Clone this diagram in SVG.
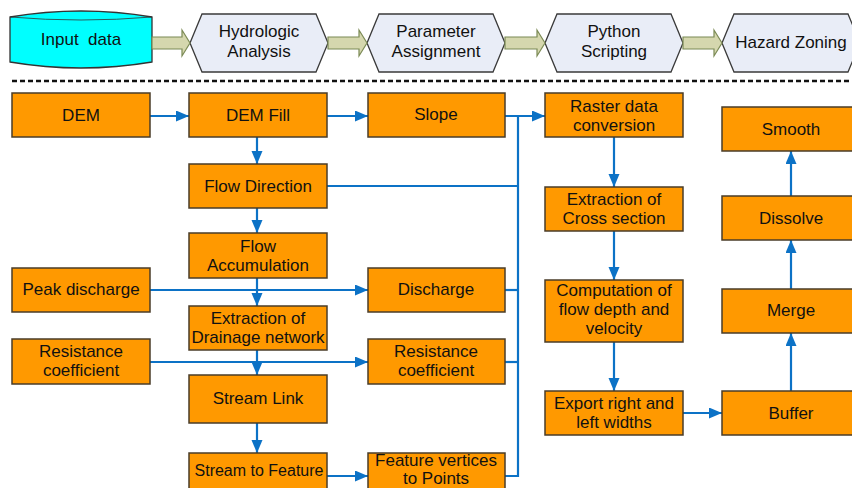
<svg xmlns="http://www.w3.org/2000/svg" width="852" height="488" viewBox="0 0 852 488">
<defs>
<style>
text{font-family:"Liberation Sans",Arial,sans-serif;font-size:17px;fill:#111;text-anchor:middle}
.box{fill:#ff9900;stroke:#4a3c28;stroke-width:1.5}
.hex{fill:#e9edf7;stroke:#3a3a3a;stroke-width:1.3}
.blk{fill:#d5d7ae;stroke:#7b8a55;stroke-width:1.2}
.ln{fill:none;stroke:#0c72c6;stroke-width:2.2}
.ar{marker-end:url(#ah)}
</style>
<marker id="ah" markerUnits="userSpaceOnUse" markerWidth="14" markerHeight="12" refX="13" refY="5.5" orient="auto">
<path d="M0,0 L13,5.5 L0,11 z" fill="#0c72c6"/>
</marker>
</defs>
<rect width="852" height="488" fill="#fff"/>

<!-- top process row -->
<g id="input-data">
<path d="M10,17 Q81,5 152,17 V62 Q81,74 10,62 Z" fill="#00ffff" stroke="#333" stroke-width="1.3"/>
<path d="M10,17 Q81,23 152,17" fill="none" stroke="#333" stroke-width="0.8"/>
<text x="81" y="45">Input&#160; data</text>
</g>
<g id="hydrologic-analysis">
<polygon class="hex" points="190,43 202,14 316,14 328,43 316,72 202,72"/>
<text x="259" y="37">Hydrologic</text><text x="259" y="57">Analysis</text>
</g>
<g id="parameter-assignment">
<polygon class="hex" points="367,43 379,14 493,14 505,43 493,72 379,72"/>
<text x="436" y="37">Parameter</text><text x="436" y="57">Assignment</text>
</g>
<g id="python-scripting">
<polygon class="hex" points="545,43 557,14 671,14 683,43 671,72 557,72"/>
<text x="614" y="37">Python</text><text x="614" y="57">Scripting</text>
</g>
<g id="hazard-zoning">
<polygon class="hex" points="722,43 734,14 848,14 860,43 848,72 734,72"/>
<text x="791" y="48">Hazard Zoning</text>
</g>
<g id="process-arrows">
<polygon class="blk" points="152,37 182,37 182,30 190,43 182,56 182,49 152,49"/>
<polygon class="blk" points="328,37 359,37 359,30 367,43 359,56 359,49 328,49"/>
<polygon class="blk" points="505,37 537,37 537,30 545,43 537,56 537,49 505,49"/>
<polygon class="blk" points="683,37 714,37 714,30 722,43 714,56 714,49 683,49"/>
</g>
<line x1="12" y1="81" x2="852" y2="81" stroke="#111" stroke-width="2.5" stroke-dasharray="5,3"/>

<!-- connectors -->
<g id="connectors">
<path class="ln ar" d="M150,116 H189"/>
<path class="ln ar" d="M326,116 H368"/>
<path class="ln ar" d="M505,116 H545"/>
<path class="ln ar" d="M257,137 V164"/>
<path class="ln ar" d="M257,208 V233"/>
<path class="ln ar" d="M257,278 V306"/>
<path class="ln ar" d="M257,350 V375"/>
<path class="ln ar" d="M257,423 V453"/>
<path class="ln ar" d="M327,476 H368"/>
<path class="ln ar" d="M150,290 H368"/>
<path class="ln ar" d="M150,362 H368"/>
<path class="ln" d="M518,116 V476 H505"/>
<path class="ln" d="M326,186 H518"/>
<path class="ln" d="M505,290 H518"/>
<path class="ln" d="M505,362 H518"/>
<path class="ln ar" d="M614,137 V187"/>
<path class="ln ar" d="M614,231 V280"/>
<path class="ln ar" d="M614,342 V391"/>
<path class="ln ar" d="M683,413 H722"/>
<path class="ln ar" d="M791,391 V333"/>
<path class="ln ar" d="M791,289 V240"/>
<path class="ln ar" d="M791,196 V151"/>
</g>

<!-- nodes -->
<g id="dem"><rect class="box" x="12" y="93" width="138" height="44"/><text x="81" y="121">DEM</text></g>
<g id="dem-fill"><rect class="box" x="189" y="93" width="138" height="44"/><text x="258" y="121">DEM Fill</text></g>
<g id="slope"><rect class="box" x="368" y="93" width="137" height="44"/><text x="436" y="120">Slope</text></g>
<g id="raster-data-conversion"><rect class="box" x="545" y="93" width="138" height="44"/><text x="614" y="112">Raster data</text><text x="614" y="131">conversion</text></g>
<g id="flow-direction"><rect class="box" x="189" y="164" width="138" height="44"/><text x="258" y="192">Flow Direction</text></g>
<g id="flow-accumulation"><rect class="box" x="189" y="233" width="138" height="45"/><text x="258" y="252">Flow</text><text x="258" y="271">Accumulation</text></g>
<g id="peak-discharge"><rect class="box" x="12" y="268" width="138" height="44"/><text x="81" y="295">Peak discharge</text></g>
<g id="discharge"><rect class="box" x="368" y="268" width="137" height="44"/><text x="436" y="295">Discharge</text></g>
<g id="extraction-drainage"><rect class="box" x="189" y="306" width="138" height="44"/><text x="258" y="324">Extraction of</text><text x="258" y="343">Drainage network</text></g>
<g id="resistance-coefficient-input"><rect class="box" x="12" y="339" width="138" height="45"/><text x="81" y="357">Resistance</text><text x="81" y="376">coefficient</text></g>
<g id="resistance-coefficient"><rect class="box" x="368" y="339" width="137" height="45"/><text x="436" y="357">Resistance</text><text x="436" y="376">coefficient</text></g>
<g id="stream-link"><rect class="box" x="189" y="375" width="138" height="48"/><text x="258" y="404">Stream Link</text></g>
<g id="stream-to-feature"><rect class="box" x="189" y="453" width="138" height="44"/><text x="259" y="476" style="font-size:16px">Stream to Feature</text></g>
<g id="feature-vertices"><rect class="box" x="368" y="453" width="137" height="44"/><text x="436" y="466">Feature vertices</text><text x="436" y="484">to Points</text></g>
<g id="extraction-cross-section"><rect class="box" x="545" y="187" width="138" height="44"/><text x="614" y="205">Extraction of</text><text x="614" y="224">Cross section</text></g>
<g id="computation"><rect class="box" x="545" y="280" width="138" height="62"/><text x="614" y="296">Computation of</text><text x="614" y="315">flow depth and</text><text x="614" y="334">velocity</text></g>
<g id="export-widths"><rect class="box" x="545" y="391" width="138" height="44"/><text x="614" y="409">Export right and</text><text x="614" y="428">left widths</text></g>
<g id="buffer"><rect class="box" x="722" y="391" width="140" height="44"/><text x="791" y="419">Buffer</text></g>
<g id="merge"><rect class="box" x="722" y="289" width="140" height="44"/><text x="791" y="316">Merge</text></g>
<g id="dissolve"><rect class="box" x="722" y="196" width="140" height="44"/><text x="791" y="224">Dissolve</text></g>
<g id="smooth"><rect class="box" x="722" y="107" width="140" height="44"/><text x="791" y="135">Smooth</text></g>
</svg>
